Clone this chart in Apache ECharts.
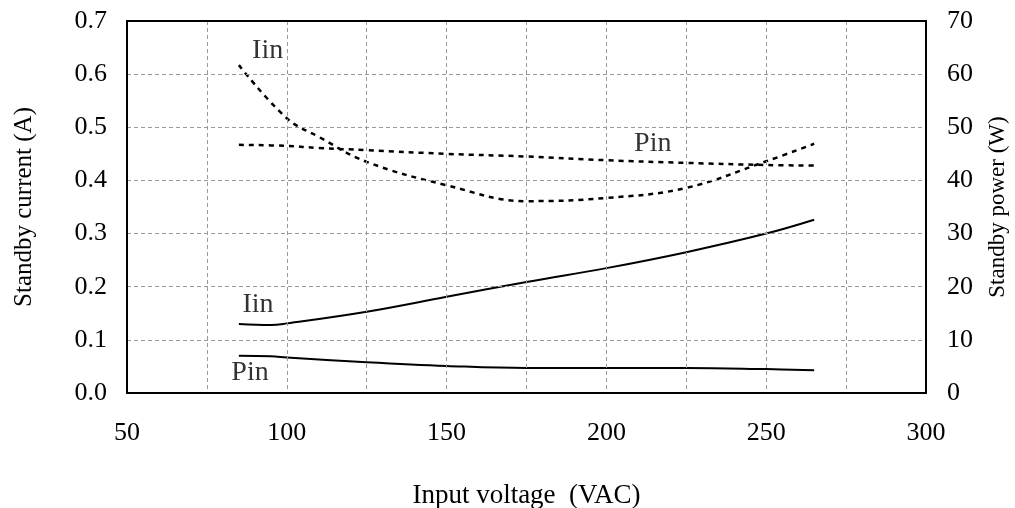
<!DOCTYPE html>
<html><head><meta charset="utf-8">
<script src="https://cdn.jsdelivr.net/npm/echarts@6/dist/echarts.min.js"></script>
<style>html,body{margin:0;padding:0;background:#fff}#c{width:1015px;height:508px}</style>
</head><body><div id="c"></div>
<script>
const voltage = [85, 100, 110, 125, 150, 175, 200, 225, 250, 265];
const iinHigh = [0.617, 0.517, 0.482, 0.435, 0.391, 0.361, 0.367, 0.386, 0.436, 0.469];
const pinHigh = [46.7, 46.5, 46.1, 45.7, 45.0, 44.5, 43.8, 43.3, 42.9, 42.8];
const voltageLow = [85, 95, 100, 125, 150, 175, 200, 225, 250, 265];
const iinLow = [0.130, 0.128, 0.131, 0.153, 0.181, 0.209, 0.235, 0.265, 0.300, 0.326];
const pinLow = [7.0, 6.9, 6.7, 5.8, 5.1, 4.7, 4.7, 4.7, 4.5, 4.3];
const leftTicks = [0, 0.7, 0.1];
const rightTicks = [0, 70, 10];
const xTicks = [50, 300, 25];
const curveLabels = [
  {text: 'Iin', at: [94, 0.645]},
  {text: 'Pin', at: [214.5, 0.469]},
  {text: 'Iin', at: [91, 0.166]},
  {text: 'Pin', at: [88.5, 0.038]}
];

const font = 'Liberation Serif';
const zip = (xs, ys) => xs.map((x, i) => [x, ys[i]]);
const chart = echarts.init(document.getElementById('c'));
const gridLine = {show: true, lineStyle: {color: '#9a9a9a', type: [4, 3], width: 1}};
const frame = {show: true, onZero: false, lineStyle: {color: '#000', width: 2}};
chart.setOption({
  animation: false,
  backgroundColor: '#fff',
  grid: {left: 127, right: 89, top: 21, bottom: 115, containLabel: false, outerBoundsMode: 'none'},
  xAxis: [{
    type: 'value', min: xTicks[0], max: xTicks[1], interval: xTicks[2],
    name: 'Input voltage  (VAC)', nameLocation: 'middle', nameGap: 89,
    nameTextStyle: {fontFamily: font, fontSize: 27, color: '#000'},
    axisLine: frame,
    axisTick: {show: false},
    axisLabel: {fontFamily: font, fontSize: 26, color: '#000', margin: 27,
      formatter: v => (v % 50 === 0 ? String(v) : '')},
    splitLine: gridLine, z: 5
  }, {
    type: 'value', position: 'top', min: xTicks[0], max: xTicks[1], interval: xTicks[2],
    axisLine: frame, axisTick: {show: false}, axisLabel: {show: false}, splitLine: {show: false}, z: 5
  }],
  yAxis: [{
    type: 'value', min: leftTicks[0], max: leftTicks[1], interval: leftTicks[2],
    name: 'Standby current (A)', nameLocation: 'middle', nameGap: 90, nameRotate: 90,
    nameTextStyle: {fontFamily: font, fontSize: 25, color: '#000'},
    axisLine: frame,
    axisTick: {show: false},
    axisLabel: {fontFamily: font, fontSize: 26, color: '#000', margin: 20, formatter: v => v.toFixed(1)},
    splitLine: gridLine, z: 5
  }, {
    type: 'value', min: rightTicks[0], max: rightTicks[1], interval: rightTicks[2],
    position: 'right',
    name: 'Standby power (W)', nameLocation: 'middle', nameGap: 60, nameRotate: 90,
    nameTextStyle: {fontFamily: font, fontSize: 23, color: '#000'},
    axisLine: frame,
    axisTick: {show: false},
    axisLabel: {fontFamily: font, fontSize: 26, color: '#000', margin: 21},
    splitLine: {show: false}, z: 5
  }],
  series: [
    {type: 'line', data: zip(voltage, iinHigh), smooth: 0.4, symbol: 'none', yAxisIndex: 0,
      lineStyle: {color: '#000', width: 2.5, type: [5, 5]}},
    {type: 'line', data: zip(voltage, pinHigh), smooth: 0.4, symbol: 'none', yAxisIndex: 1,
      lineStyle: {color: '#000', width: 2.5, type: [5, 5]}},
    {type: 'line', data: zip(voltageLow, iinLow), smooth: 0.4, symbol: 'none', yAxisIndex: 0,
      lineStyle: {color: '#000', width: 2}},
    {type: 'line', data: zip(voltageLow, pinLow), smooth: 0.4, symbol: 'none', yAxisIndex: 1,
      lineStyle: {color: '#000', width: 2}},
    {type: 'scatter', yAxisIndex: 0, symbolSize: 0, silent: true,
      data: curveLabels.map(l => ({value: l.at, name: l.text})),
      label: {show: true, position: 'inside', formatter: p => p.name,
        fontFamily: font, fontSize: 28, color: '#000'}}
  ]
});
</script></body></html>
